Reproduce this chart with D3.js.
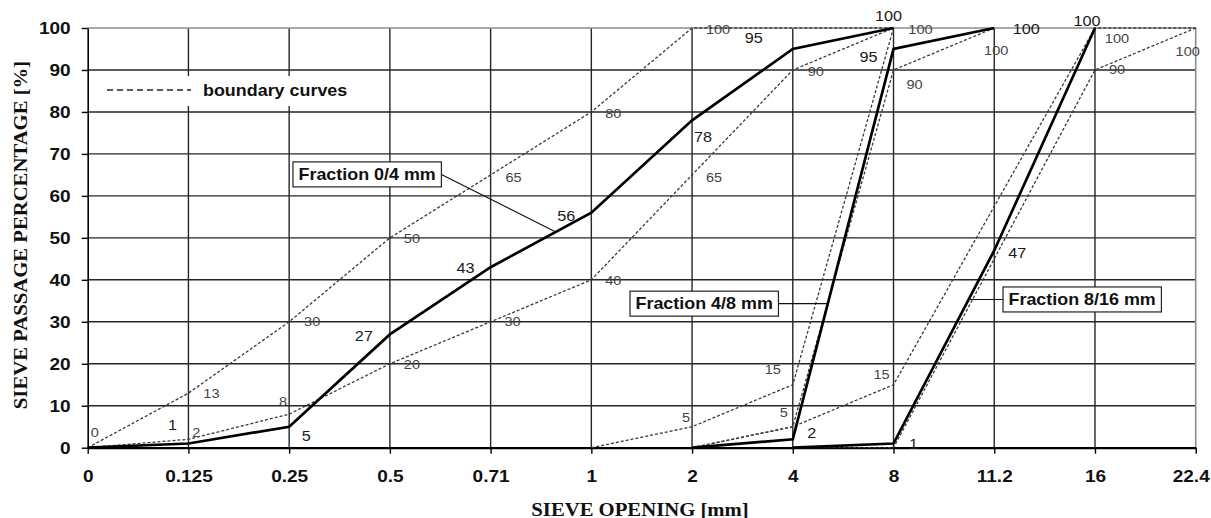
<!DOCTYPE html>
<html><head><meta charset="utf-8">
<script src="https://cdn.jsdelivr.net/npm/d3@7"></script>
<style>html,body{margin:0;padding:0;background:#fff;} svg{display:block;}</style>
</head><body><svg id="chart" width="1211" height="518"></svg>
<script>
// ---- data ----
const sieves = ["0","0.125","0.25","0.5","0.71","1","2","4","8","11.2","16","22.4"];
const yTicks = [0,10,20,30,40,50,60,70,80,90,100];

// solid grading curves (sieve passage %), null = no point
const frac04  = [0, 1, 5, 27, 43, 56, 78, 95, 100, null, null, null];
const frac48  = [null, null, null, null, null, null, 0, 2, 95, 100, null, null];
const frac816 = [null, null, null, null, null, null, null, 0, 1, 47, 100, null];

// dashed boundary curves
const upper04  = [0, 13, 30, 50, 65, 80, 100, 100, 100, null, null, null];
const lower04  = [0, 2, 8, 20, 30, 40, 65, 90, 100, null, null, null];
const upper48  = [null, null, null, null, null, 0, 5, 15, 100, null, null, null];
const lower48  = [null, null, null, null, null, null, 0, 5, 90, 100, null, null];
const upper816 = [null, null, null, null, null, null, 0, 5, 15, null, 100, 100];
const lower816 = [null, null, null, null, null, null, null, 0, 0, null, 90, 100];

const callouts = [
  {text: "Fraction 0/4 mm",  series: frac04,  boxAt: [2.038, 68.1], side: "right", target: 51.4},
  {text: "Fraction 4/8 mm",  series: frac48,  boxAt: [5.384, 37.3], side: "right", target: null},
  {text: "Fraction 8/16 mm", series: frac816, boxAt: [9.087, 38.3], side: "left",  target: null}
];

// ---- label placement (offsets from point to text centre) ----
const offSolid04  = [null,[-16,-19],[17,9],[-26,1],[-25,1],[-25,3],[11,16],[-39,-11],[-5,-12],null,null,null];
const offSolid48  = [null,null,null,null,null,null,null,[19,-7],[-25,8],[32,1],null,null];
const offSolid816 = [null,null,null,null,null,null,null,null,[20,0],[23,2],[-8,-7],null];
const offUp04  = [[7,-15],[23,0],[23,0],[22,0],[23,2],[22,1],[26,1],null,null,null,null,null];
const offLo04  = [null,[8,-7],[-6,-13],[22,1],[22,0],[22,0],[22,2],[23,1],[27,1],null,null,null];
const offUp48  = [null,null,null,null,null,null,[-6,-9],[-20,-15],null,null,null,null];
const offLo48  = [null,null,null,null,null,null,null,[-9,-14],[21,14],[2,22],null,null];
const offUp816 = [null,null,null,null,null,null,null,null,[-12,-10],null,[22,10],null];
const offLo816 = [null,null,null,null,null,null,null,null,null,null,[22,-1],[-8,23]];

// ---- drawing ----
const SX = 1.12;
const SANS = "'Liberation Sans', Arial, sans-serif";
const SERIF = "'Liberation Serif', 'Times New Roman', serif";
const svg = d3.select("#chart");
const W = 1211, H = 518;
const m = {l: 87.7, r: 15.3, t: 28, b: 70.3};

const x = d3.scalePoint().domain(sieves).range([m.l, W - m.r]);
const y = d3.scaleLinear().domain([0, 100]).range([H - m.b, m.t]);
const xAt = i => x.range()[0] + i * x.step();

svg.append("rect").attr("width", W).attr("height", H).attr("fill", "#fff");

// grid
const g = svg.append("g");
g.selectAll("line.v").data(sieves.slice(1, -1)).join("line")
  .attr("x1", d => x(d)).attr("x2", d => x(d)).attr("y1", y(0)).attr("y2", y(100))
  .attr("stroke", "#262626").attr("stroke-width", 1.4);
g.selectAll("line.h").data(yTicks.slice(1, -1)).join("line")
  .attr("x1", x(sieves[0])).attr("x2", x(sieves[sieves.length - 1])).attr("y1", d => y(d)).attr("y2", d => y(d))
  .attr("stroke", "#262626").attr("stroke-width", 1.4);
// top / right border (grey)
g.append("line").attr("x1", x(sieves[0])).attr("x2", x(sieves[sieves.length-1]) + 0.7)
  .attr("y1", y(100)).attr("y2", y(100)).attr("stroke", "#8c8c8c").attr("stroke-width", 1.6);
g.append("line").attr("x1", x(sieves[sieves.length-1])).attr("x2", x(sieves[sieves.length-1]))
  .attr("y1", y(100)).attr("y2", y(0)).attr("stroke", "#8c8c8c").attr("stroke-width", 1.6);

// legend background (covers grid)
const leg = svg.append("g");
leg.append("rect").attr("x", 100).attr("y", 76).attr("width", 255).attr("height", 30).attr("fill", "#fff");
leg.append("line").attr("x1", 107).attr("x2", 191).attr("y1", 90).attr("y2", 90)
  .attr("stroke", "#222").attr("stroke-width", 1.3).attr("stroke-dasharray", "6,4");
leg.append("text").text("boundary curves")
  .attr("transform", `translate(203,96) scale(${SX},1)`)
  .attr("font-family", SANS).attr("font-weight", "bold").attr("font-size", 16).attr("fill", "#111");

// axes
const yAxis = d3.axisLeft(y).tickValues(yTicks).tickSize(6).tickSizeOuter(0).tickPadding(9.2);
const ya = svg.append("g").attr("transform", `translate(${m.l},0)`).call(yAxis);
ya.select(".domain").attr("stroke", "#000").attr("stroke-width", 1.6);
ya.selectAll(".tick line").attr("stroke", "#000").attr("stroke-width", 1.4);
ya.selectAll(".tick text").attr("font-family", SANS).attr("font-weight", "bold").attr("font-size", 17)
  .attr("fill", "#111").attr("transform", `scale(${SX},1)`);

const xAxis = d3.axisBottom(x).tickSize(6).tickSizeOuter(0).tickPadding(16.2);
const xa = svg.append("g").attr("transform", `translate(0,${y(0)})`).call(xAxis);
xa.select(".domain").attr("stroke", "#000").attr("stroke-width", 2.2);
xa.selectAll(".tick line").attr("stroke", "#000").attr("stroke-width", 1.4);
xa.selectAll(".tick text").attr("font-family", SANS).attr("font-weight", "bold").attr("font-size", 17)
  .attr("fill", "#111")
  .attr("transform", (d, i, n) => (i === n.length - 1 ? "translate(-5,0) " : "") + `scale(${SX},1)`);

// axis titles
svg.append("text").text("SIEVE OPENING [mm]")
  .attr("transform", `translate(640,515.5) scale(${SX},1)`).attr("text-anchor", "middle")
  .attr("font-family", SERIF).attr("font-weight", "bold").attr("font-size", 18.5).attr("fill", "#111");
svg.append("text").text("SIEVE PASSAGE PERCENTAGE [%]")
  .attr("transform", `translate(27,235) rotate(-90) scale(${SX},1)`).attr("text-anchor", "middle")
  .attr("font-family", SERIF).attr("font-weight", "bold").attr("font-size", 18.5).attr("fill", "#111");

// series
const pts = arr => arr.map((v, i) => ({s: sieves[i], v, i})).filter(d => d.v !== null);
const line = d3.line().x(d => x(d.s)).y(d => y(d.v));

const dashed = [upper04, lower04, upper48, lower48, upper816, lower816];
svg.append("g").selectAll("path").data(dashed).join("path")
  .attr("d", d => line(pts(d))).attr("fill", "none")
  .attr("stroke", "#3a3a3a").attr("stroke-width", 1.3).attr("stroke-dasharray", "3,2");

const solids = [frac04, frac48, frac816];
svg.append("g").selectAll("path").data(solids).join("path")
  .attr("d", d => line(pts(d))).attr("fill", "none")
  .attr("stroke", "#000").attr("stroke-width", 2.7).attr("stroke-linejoin", "miter");

// value labels
function labels(values, offs, size, color) {
  const data = pts(values).filter(d => offs[d.i]);
  svg.append("g").selectAll("text").data(data).join("text")
    .text(d => d.v)
    .attr("transform", d => `translate(${x(d.s) + offs[d.i][0]},${y(d.v) + offs[d.i][1]}) scale(${SX},1)`)
    .attr("dy", "0.36em").attr("text-anchor", "middle")
    .attr("font-family", SANS).attr("font-size", size).attr("fill", color);
}
labels(upper04, offUp04, 13, "#444");
labels(lower04, offLo04, 13, "#444");
labels(upper48, offUp48, 13, "#444");
labels(lower48, offLo48, 13, "#444");
labels(upper816, offUp816, 13, "#444");
labels(lower816, offLo816, 13, "#444");
labels(frac04, offSolid04, 14.5, "#1a1a1a");
labels(frac48, offSolid48, 14.5, "#1a1a1a");
labels(frac816, offSolid816, 14.5, "#1a1a1a");

// callouts
function xOnSeries(values, target) {
  const p = pts(values);
  for (let k = 0; k < p.length - 1; k++) {
    const a = p[k], b = p[k + 1];
    if ((a.v <= target && target <= b.v) && b.v !== a.v) {
      const t = (target - a.v) / (b.v - a.v);
      return x(a.s) + t * (x(b.s) - x(a.s));
    }
  }
  return null;
}
const cg = svg.append("g");
callouts.forEach(c => {
  const bx = xAt(c.boxAt[0]), by = y(c.boxAt[1]);
  const t = cg.append("text").text(c.text)
    .attr("font-family", SANS).attr("font-weight", "bold").attr("font-size", 16).attr("fill", "#111");
  const tw = t.node().getComputedTextLength() * SX;
  const bw = tw + 11, bh = 25;
  const cy = by + bh / 2;
  const target = c.target !== null ? c.target : y.invert(cy);
  const tx = xOnSeries(c.series, target), ty = y(target);
  const sx0 = c.side === "right" ? bx + bw : bx;
  cg.insert("line", "text").attr("x1", sx0).attr("y1", cy).attr("x2", tx).attr("y2", ty)
    .attr("stroke", "#111").attr("stroke-width", 1.1);
  cg.insert("rect", "text").attr("x", bx).attr("y", by).attr("width", bw).attr("height", bh)
    .attr("fill", "#fff").attr("stroke", "#222").attr("stroke-width", 1.2);
  t.attr("transform", `translate(${bx + 5.5},${by + 18}) scale(${SX},1)`);
});
</script>
</body></html>
